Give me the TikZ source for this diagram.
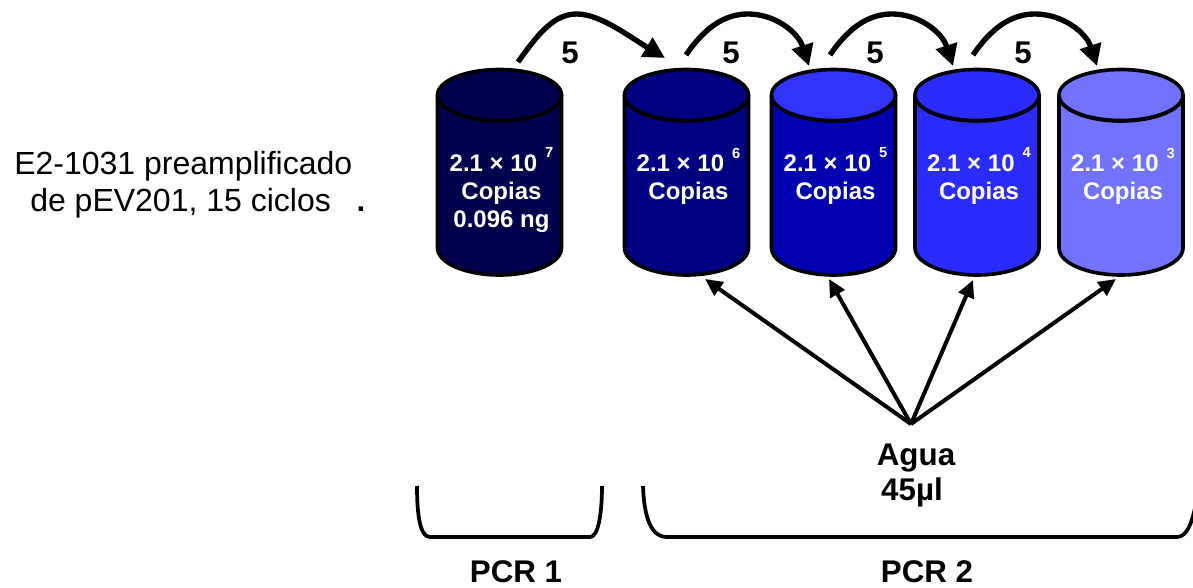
\documentclass[tikz,border=0pt]{standalone}
\usepackage{fontspec}
\setmainfont{Liberation Sans}
\usetikzlibrary{arrows.meta}
\definecolor{cA}{HTML}{00004D}
\definecolor{cB}{HTML}{000080}
\definecolor{cC}{HTML}{0000B0}
\definecolor{cCt}{HTML}{3333FF}
\definecolor{cD}{HTML}{2B2BFF}
\definecolor{cE}{HTML}{7272FF}
\tikzset{
  cylline/.style={draw=black,line width=2.7pt,line join=round},
  celltext/.style={text=white,font=\fontsize{18}{21}\selectfont\bfseries,align=center,anchor=north,inner sep=0pt},
  hop/.style={line width=4pt,-{Triangle[length=16pt,width=16pt]}},
  water/.style={line width=3pt,-{Triangle[length=13pt,width=12pt]}},
  bracketline/.style={line width=2.8pt},
  boldlabel/.style={font=\fontsize{23.5}{25}\selectfont\bfseries,inner sep=0pt},
  leftlabel/.style={font=\fontsize{24}{27}\selectfont,inner sep=0pt}
}
% name, centre x, body colour, top colour, text
\newcommand{\cylinderbox}[5]{%
  \path[cylline,fill=#3] (#2-62,95) -- (#2-62,248) arc[start angle=180,end angle=0,x radius=62,y radius=27] -- (#2+62,95) arc[start angle=0,end angle=180,x radius=62,y radius=26] -- cycle;
  \path[cylline,fill=#4] (#2,95) ellipse [x radius=62,y radius=25.5];
  \node[celltext] (#1) at (#2+2,147.5) {#5};
}
\newcommand{\powten}[1]{2.1 × 10\,\,\raisebox{0.55em}{\fontsize{11}{11}\selectfont #1}}
\begin{document}
\begin{tikzpicture}[x=0.75pt,y=-0.75pt]
\useasboundingbox (0,0) rectangle (1193,588);

\cylinderbox{cyla}{499.5}{cA}{cA}{\powten{7}\\Copias\\0.096 ng}
\cylinderbox{cylb}{686.5}{cB}{cB}{\powten{6}\\Copias}
\cylinderbox{cylc}{833.5}{cC}{cCt}{\powten{5}\\Copias}
\cylinderbox{cyld}{977}{cD}{cD}{\powten{4}\\Copias}
\cylinderbox{cyle}{1121}{cE}{cE}{\powten{3}\\Copias}

% hop arrows
\coordinate (s1) at (518,62); \coordinate (t1) at (665,58);
\coordinate (s2) at (686,55); \coordinate (t2) at (809,66);
\coordinate (s3) at (830,55); \coordinate (t3) at (953,66);
\coordinate (s4) at (973,55); \coordinate (t4) at (1097,66);
\draw[hop] (s1) .. controls (540,31) and (555,14) .. (577,14) .. controls (600,14) and (630,37) .. (t1);
\draw[hop] (s2) .. controls (705,27) and (725,14) .. (748,14) .. controls (775,14) and (798,32) .. (t2);
\draw[hop] (s3) .. controls (849,27) and (869,14) .. (892,14) .. controls (919,14) and (942,32) .. (t3);
\draw[hop] (s4) .. controls (992,27) and (1012,14) .. (1035,14) .. controls (1062,14) and (1086,32) .. (t4);

\node[boldlabel] (n1) at (570,53) {5};
\node[boldlabel] (n2) at (731,53) {5};
\node[boldlabel] (n3) at (875,53) {5};
\node[boldlabel] (n4) at (1023,53) {5};

% water arrows
\coordinate (w) at (911,424);
\coordinate (u1) at (705,279);
\coordinate (u2) at (829,279);
\coordinate (u3) at (973,280);
\coordinate (u4) at (1116,279);
\draw[water] (w) -- (u1);
\draw[water] (w) -- (u2);
\draw[water] (w) -- (u3);
\draw[water] (w) -- (u4);

\node[boldlabel] (agua) at (916,458) {Agua};
\node[boldlabel] (vol) at (912,492) {45µl};

% brackets
\draw[bracketline] (417,486) .. controls (417,515) and (420,537) .. (430,537) -- (590,537) .. controls (598,537) and (602,515) .. (602,486);
\draw[bracketline] (643,486) .. controls (644,515) and (650,537) .. (667,537) -- (1177,537) .. controls (1187,537) and (1192,522) .. (1195,508);

\node[boldlabel,anchor=base] (pcra) at (516,582) {PCR 1};
\node[boldlabel,anchor=base] (pcrb) at (927,582) {PCR 2};

% left text
\node[leftlabel,anchor=base west] (la) at (14,175) {E2-1031 preamplificado};
\node[leftlabel,anchor=base west] (lb) at (30,212) {de pEV201, 15 ciclos};
\node[boldlabel,anchor=base] (dot) at (361,212) {.};
\end{tikzpicture}
\end{document}
